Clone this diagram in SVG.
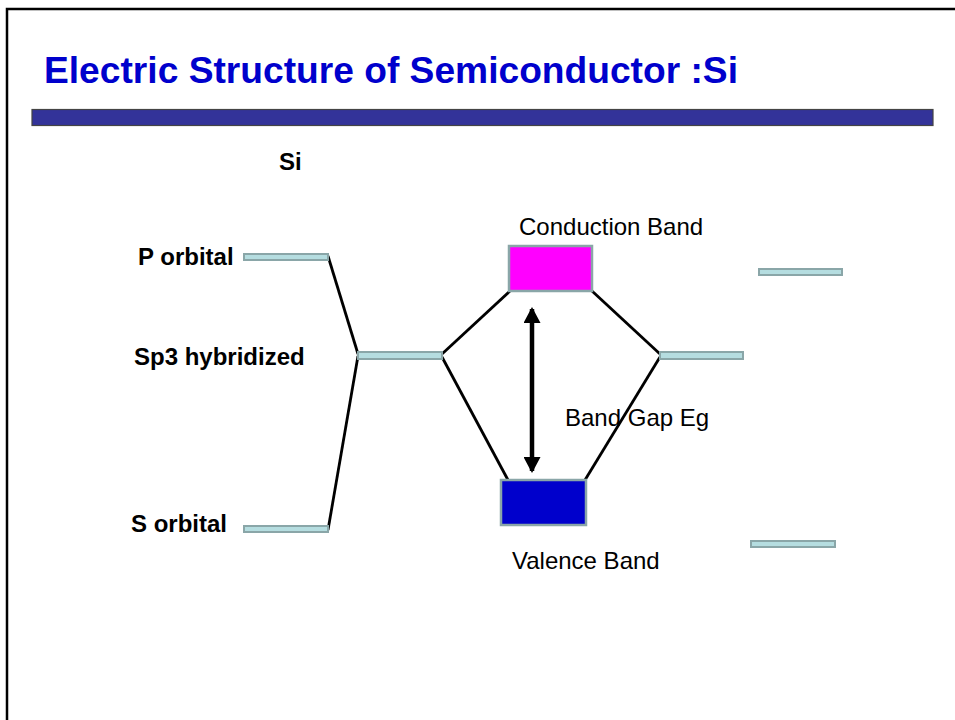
<svg xmlns="http://www.w3.org/2000/svg" width="955" height="720" viewBox="0 0 955 720">
<style>
.lvl{fill:#b5dde0;stroke:#8aa6a8;stroke-width:2}
.lab{font-family:"Liberation Sans",Arial,sans-serif;font-size:24px;font-weight:bold;fill:#000}
.txt{font-family:"Liberation Sans",Arial,sans-serif;font-size:24px;fill:#000}
.ln{stroke:#000;stroke-width:2.8;fill:none}
</style>
<defs>
<marker id="ah" viewBox="0 0 16 17" refX="14" refY="8.5" markerWidth="16" markerHeight="17" markerUnits="userSpaceOnUse" orient="auto-start-reverse">
<path d="M0,0 L16,8.5 L0,17 Z" fill="#000"/>
</marker>
</defs>
<rect x="0" y="0" width="955" height="720" fill="#fff"/>
<rect x="7" y="9" width="960" height="730" fill="none" stroke="#000" stroke-width="2.5"/>
<text x="44" y="83" font-family="'Liberation Sans',Arial,sans-serif" font-size="36" font-weight="bold" fill="#0000cc" textLength="694" lengthAdjust="spacingAndGlyphs">Electric Structure of Semiconductor :Si</text>
<rect x="32" y="109.5" width="901" height="16" fill="#333399" stroke="#444" stroke-width="1.2"/>
<g id="connectors">
<line class="ln" x1="328" y1="256" x2="358" y2="354"/>
<line class="ln" x1="328" y1="530" x2="358" y2="356"/>
<line class="ln" x1="442" y1="354" x2="510" y2="291"/>
<line class="ln" x1="442" y1="357" x2="508" y2="480"/>
<line class="ln" x1="592" y1="291" x2="660" y2="354"/>
<line class="ln" x1="585" y1="480" x2="660" y2="357"/>
<line id="gap-arrow" x1="532" y1="309" x2="532" y2="471" stroke="#000" stroke-width="4.5" marker-start="url(#ah)" marker-end="url(#ah)"/>
</g>
<g id="si-label"><text class="lab" x="279" y="170">Si</text></g>
<g id="p-orbital"><text class="lab" x="138" y="265">P orbital</text><rect class="lvl" x="244" y="254" width="84" height="6"/></g>
<g id="sp3-left"><text class="lab" x="134" y="365">Sp3 hybridized</text><rect class="lvl" x="358" y="352" width="84" height="7"/></g>
<g id="s-orbital"><text class="lab" x="131" y="532">S orbital</text><rect class="lvl" x="244" y="526" width="84" height="6"/></g>
<g id="sp3-right"><rect class="lvl" x="660" y="352" width="83" height="7"/></g>
<g id="right-top"><rect class="lvl" x="759" y="269" width="83" height="6"/></g>
<g id="right-bottom"><rect class="lvl" x="751" y="541" width="84" height="6"/></g>
<g id="conduction-band"><rect x="509" y="246" width="83" height="45" fill="#ff00ff" stroke="#8aa6a8" stroke-width="2.5"/><text class="txt" x="519" y="235">Conduction Band</text></g>
<g id="valence-band"><rect x="501" y="480" width="85" height="45" fill="#0000cc" stroke="#8aa6a8" stroke-width="2.5"/><text class="txt" x="512" y="569">Valence Band</text></g>
<g id="band-gap"><text class="txt" x="565" y="426">Band Gap Eg</text></g>
</svg>
